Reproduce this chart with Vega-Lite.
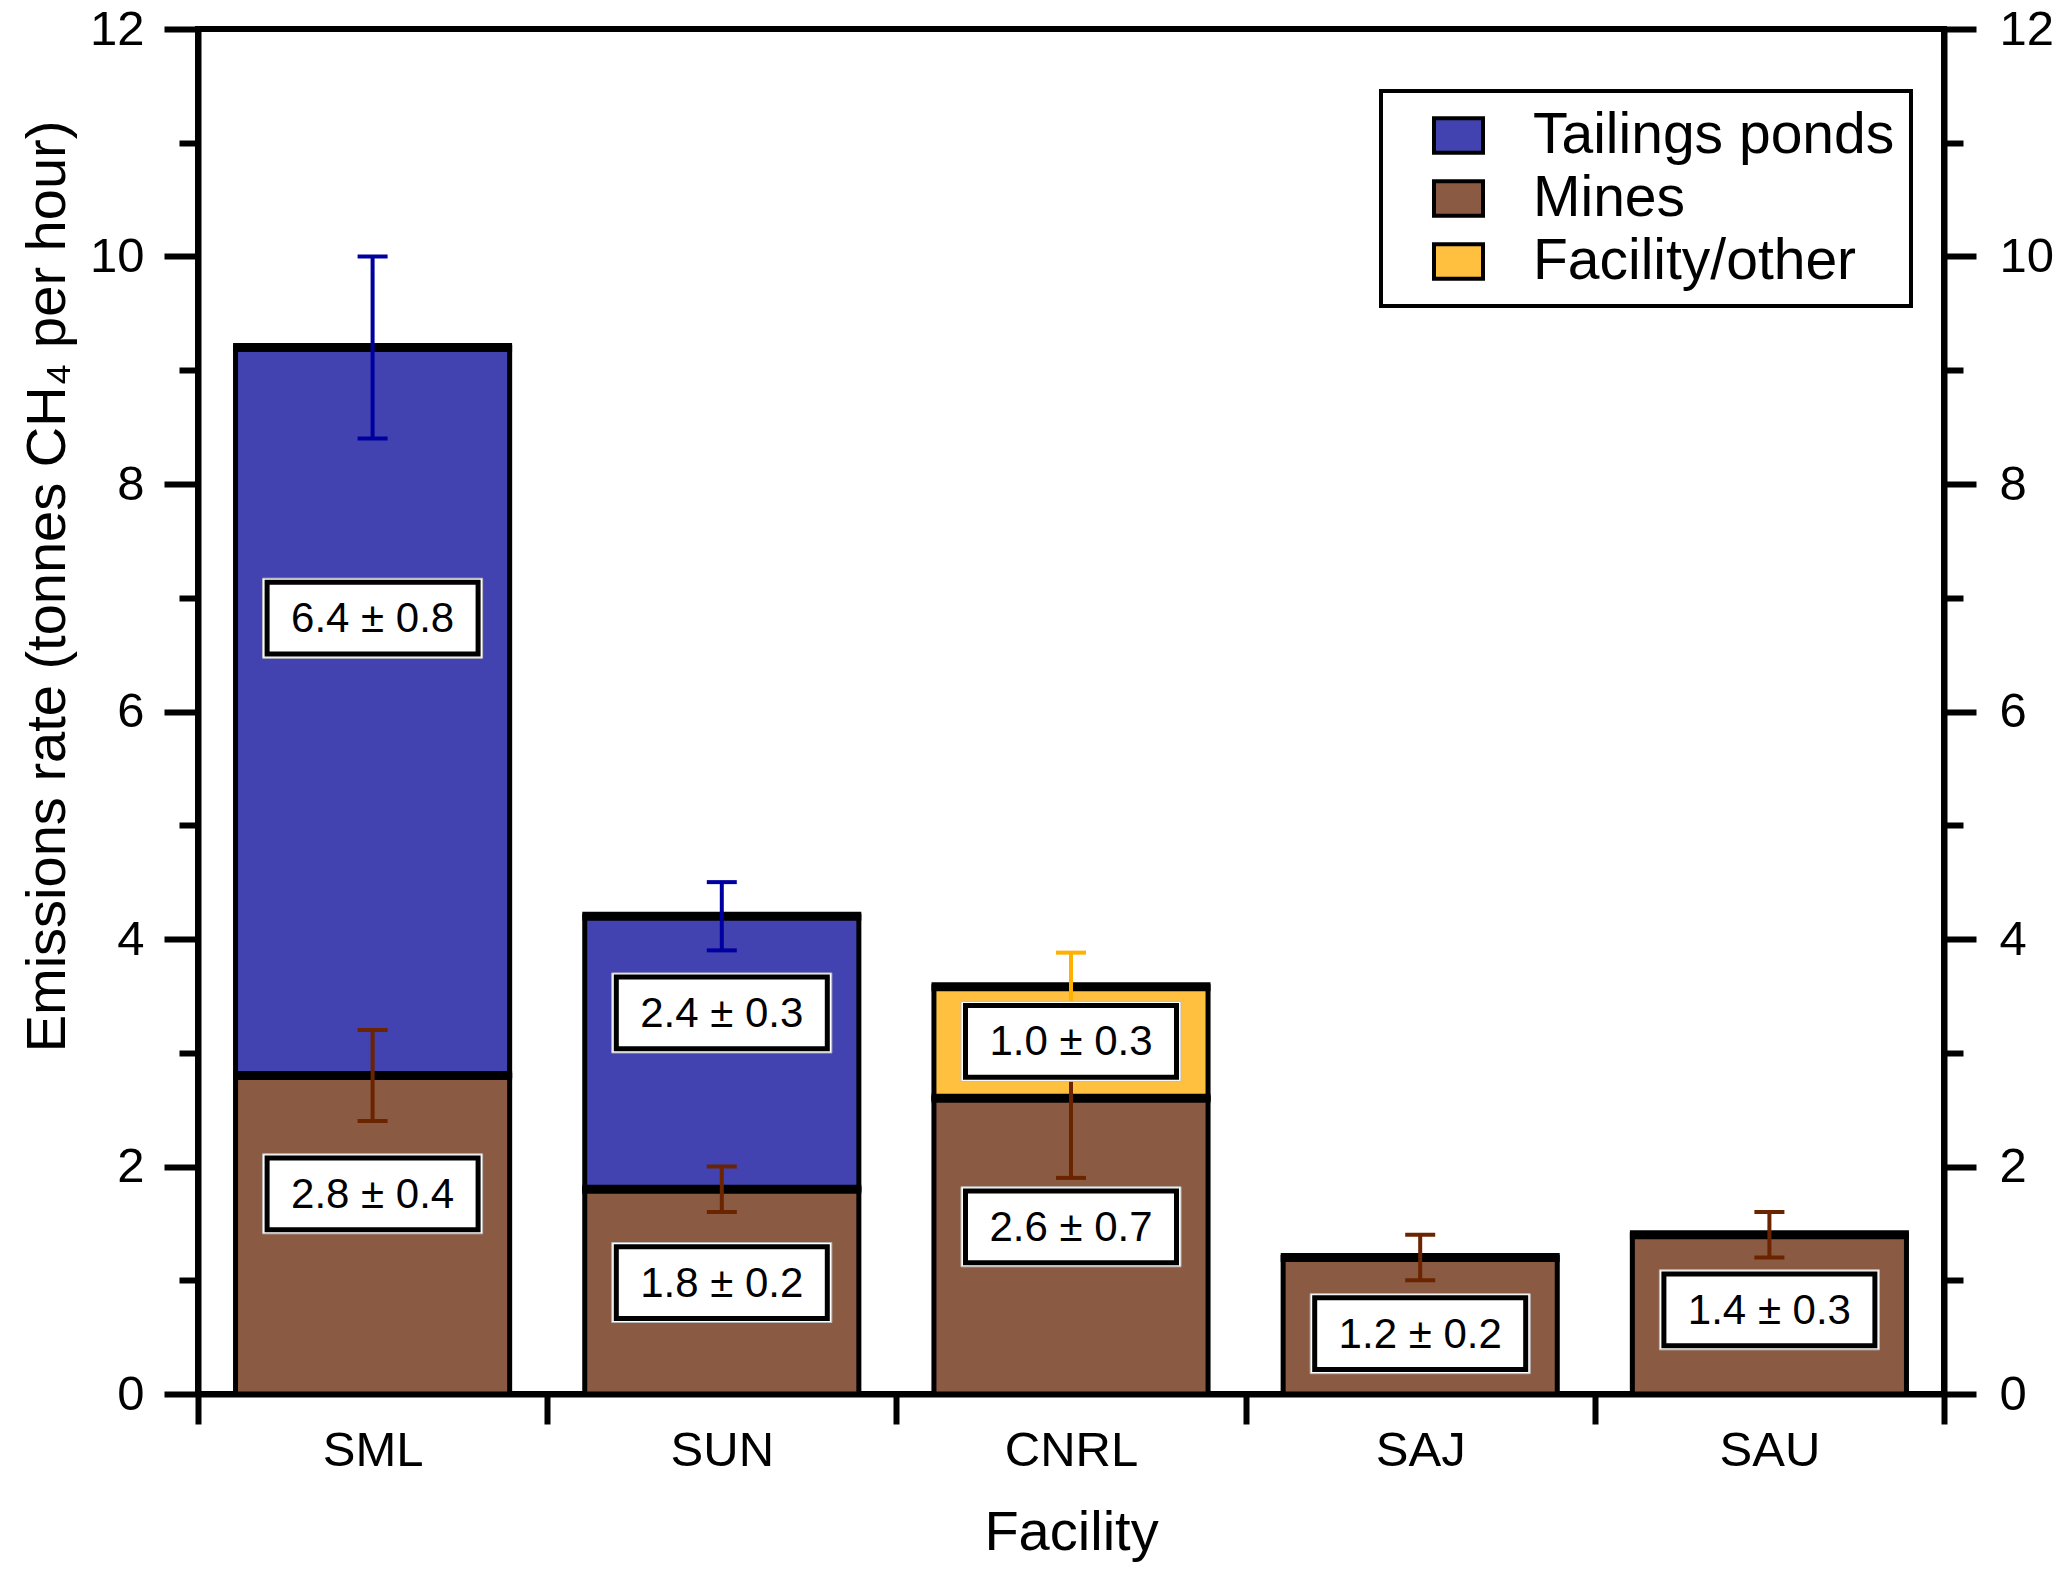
{
  "$schema": "https://vega.github.io/schema/vega-lite/v6.json",
  "width": 1746,
  "height": 1365,
  "autosize": "none",
  "padding": {"left": 198, "top": 29, "right": 123, "bottom": 180},
  "background": "white",
  "config": {
    "view": {"stroke": "black", "strokeWidth": 6},
    "font": "Liberation Sans",
    "legend": {"strokeWidth": 4}
  },
  "data": {
    "values": [
      {"facility": "SML", "category": "Mines", "start": 0, "end": 2.8, "lo": 2.4, "hi": 3.2, "label": "2.8 ± 0.4", "labelY": 1.76},
      {"facility": "SML", "category": "Tailings ponds", "start": 2.8, "end": 9.2, "lo": 8.4, "hi": 10.0, "label": "6.4 ± 0.8", "labelY": 6.82},
      {"facility": "SUN", "category": "Mines", "start": 0, "end": 1.8, "lo": 1.6, "hi": 2.0, "label": "1.8 ± 0.2", "labelY": 0.98},
      {"facility": "SUN", "category": "Tailings ponds", "start": 1.8, "end": 4.2, "lo": 3.9, "hi": 4.5, "label": "2.4 ± 0.3", "labelY": 3.35},
      {"facility": "CNRL", "category": "Mines", "start": 0, "end": 2.6, "lo": 1.9, "hi": 3.3, "label": "2.6 ± 0.7", "labelY": 1.47},
      {"facility": "CNRL", "category": "Facility/other", "start": 2.6, "end": 3.58, "lo": 3.28, "hi": 3.88, "label": "1.0 ± 0.3", "labelY": 3.1},
      {"facility": "SAJ", "category": "Mines", "start": 0, "end": 1.2, "lo": 1.0, "hi": 1.4, "label": "1.2 ± 0.2", "labelY": 0.53},
      {"facility": "SAU", "category": "Mines", "start": 0, "end": 1.4, "lo": 1.2, "hi": 1.6, "label": "1.4 ± 0.3", "labelY": 0.74}
    ]
  },
  "encoding": {
    "x": {
      "field": "facility",
      "type": "nominal",
      "sort": ["SML", "SUN", "CNRL", "SAJ", "SAU"],
      "scale": {"paddingInner": 0, "paddingOuter": 0},
      "axis": {
        "title": "Facility",
        "titleFontSize": 56,
        "titleFontWeight": "normal",
        "titleColor": "black",
        "titlePadding": 30,
        "labelFontSize": 49,
        "labelColor": "black",
        "labelAngle": 0,
        "labelPadding": 2,
        "tickBand": "extent",
        "tickSize": 30,
        "tickWidth": 6,
        "tickColor": "black",
        "domainColor": "black",
        "domainWidth": 6
      }
    }
  },
  "layer": [
    {
      "mark": {"type": "bar", "stroke": "black", "strokeWidth": 5, "strokeJoin": "miter", "width": {"band": 0.785}},
      "encoding": {
        "y": {
          "field": "start",
          "type": "quantitative",
          "scale": {"domain": [0, 12], "nice": false, "zero": true},
          "axis": {
            "orient": "left",
            "title": "Emissions rate (tonnes CH₄ per hour)",
            "titleFontSize": 56,
            "titleFontWeight": "normal",
            "titleColor": "black",
            "titleX": -151,
            "titleY": 557,
            "titleAlign": "center",
            "titleBaseline": "middle",
            "titleAngle": -90,
            "values": [0, 0.5, 1, 1.5, 2, 2.5, 3, 3.5, 4, 4.5, 5, 5.5, 6, 6.5, 7, 7.5, 8, 8.5, 9, 9.5, 10, 10.5, 11, 11.5, 12],
            "format": "d",
            "labelExpr": "datum.value % 2 === 0 ? datum.label : ''",
            "labelFontSize": 49,
            "labelColor": "black",
            "labelPadding": 20,
            "tickSize": {"condition": {"test": "datum.value % 2 === 0", "value": 34}, "value": 19},
            "tickWidth": 6,
            "tickColor": "black",
            "domainColor": "black",
            "domainWidth": 6,
            "grid": false
          }
        },
        "y2": {"field": "end"},
        "fill": {
          "field": "category",
          "type": "nominal",
          "scale": {
            "domain": ["Tailings ponds", "Mines", "Facility/other"],
            "range": ["#4242B0", "#8B5A42", "#FFC040"]
          },
          "legend": {
            "title": null,
            "orient": "none",
            "legendX": 1183,
            "legendY": 62,
            "strokeColor": "black",
            "padding": 16,
            "labelFontSize": 57,
            "labelColor": "black",
            "labelLimit": 0,
            "labelOffset": 46,
            "symbolType": "M-1,-0.7L1,-0.7L1,0.7L-1,0.7Z",
            "symbolSize": 2401,
            "symbolStrokeColor": "black",
            "symbolStrokeWidth": 4,
            "symbolOffset": 33,
            "rowPadding": 5,
            "encode": {
              "symbols": {"update": {"stroke": {"value": "black"}, "strokeWidth": {"value": 4}}}
            }
          }
        }
      }
    },
    {
      "mark": {"type": "tick", "color": "black", "thickness": 9, "size": 279, "opacity": 1},
      "encoding": {
        "y": {"field": "end", "type": "quantitative", "scale": {"domain": [0, 12], "nice": false}, "axis": null}
      }
    },
    {
      "mark": {"type": "rule", "strokeWidth": 4},
      "encoding": {
        "y": {
          "field": "lo",
          "type": "quantitative",
          "scale": {"domain": [0, 12], "nice": false},
          "axis": {
            "orient": "right",
            "title": null,
            "values": [0, 0.5, 1, 1.5, 2, 2.5, 3, 3.5, 4, 4.5, 5, 5.5, 6, 6.5, 7, 7.5, 8, 8.5, 9, 9.5, 10, 10.5, 11, 11.5, 12],
            "format": "d",
            "labelExpr": "datum.value % 2 === 0 ? datum.label : ''",
            "labelFontSize": 49,
            "labelColor": "black",
            "labelPadding": 23,
            "tickSize": {"condition": {"test": "datum.value % 2 === 0", "value": 32}, "value": 19},
            "tickWidth": 6,
            "tickColor": "black",
            "domainColor": "black",
            "domainWidth": 6,
            "grid": false
          }
        },
        "y2": {"field": "hi"},
        "color": {
          "condition": [
            {"test": "datum.category === 'Tailings ponds'", "value": "#0000A0"},
            {"test": "datum.category === 'Facility/other'", "value": "#FFB000"}
          ],
          "value": "#6B2400"
        }
      }
    },
    {
      "mark": {"type": "tick", "thickness": 4, "size": 30, "opacity": 1},
      "encoding": {
        "y": {"field": "lo", "type": "quantitative", "scale": {"domain": [0, 12], "nice": false}, "axis": null},
        "color": {
          "condition": [
            {"test": "datum.category === 'Tailings ponds'", "value": "#0000A0"},
            {"test": "datum.category === 'Facility/other'", "value": "#FFB000"}
          ],
          "value": "#6B2400"
        }
      }
    },
    {
      "mark": {"type": "tick", "thickness": 4, "size": 30, "opacity": 1},
      "encoding": {
        "y": {"field": "hi", "type": "quantitative", "scale": {"domain": [0, 12], "nice": false}, "axis": null},
        "color": {
          "condition": [
            {"test": "datum.category === 'Tailings ponds'", "value": "#0000A0"},
            {"test": "datum.category === 'Facility/other'", "value": "#FFB000"}
          ],
          "value": "#6B2400"
        }
      }
    },
    {
      "mark": {"type": "point", "shape": "M-1,-0.3636L1,-0.3636L1,0.3636L-1,0.3636Z", "size": 48400, "filled": true, "fill": "white", "stroke": "#bbbbbb", "strokeWidth": 1, "opacity": 1},
      "encoding": {
        "y": {"field": "labelY", "type": "quantitative", "scale": {"domain": [0, 12], "nice": false}, "axis": null}
      }
    },
    {
      "mark": {"type": "point", "shape": "M-1,-0.34L1,-0.34L1,0.34L-1,0.34Z", "size": 44521, "filled": false, "fill": "white", "stroke": "black", "strokeWidth": 5, "opacity": 1, "fillOpacity": 1, "strokeOpacity": 1},
      "encoding": {
        "y": {"field": "labelY", "type": "quantitative", "scale": {"domain": [0, 12], "nice": false}, "axis": null}
      }
    },
    {
      "mark": {"type": "text", "fontSize": 42, "color": "black", "align": "center", "baseline": "middle", "dy": 1},
      "encoding": {
        "y": {"field": "labelY", "type": "quantitative", "scale": {"domain": [0, 12], "nice": false}, "axis": null},
        "text": {"field": "label"}
      }
    }
  ],
  "resolve": {"axis": {"y": "independent"}}
}
